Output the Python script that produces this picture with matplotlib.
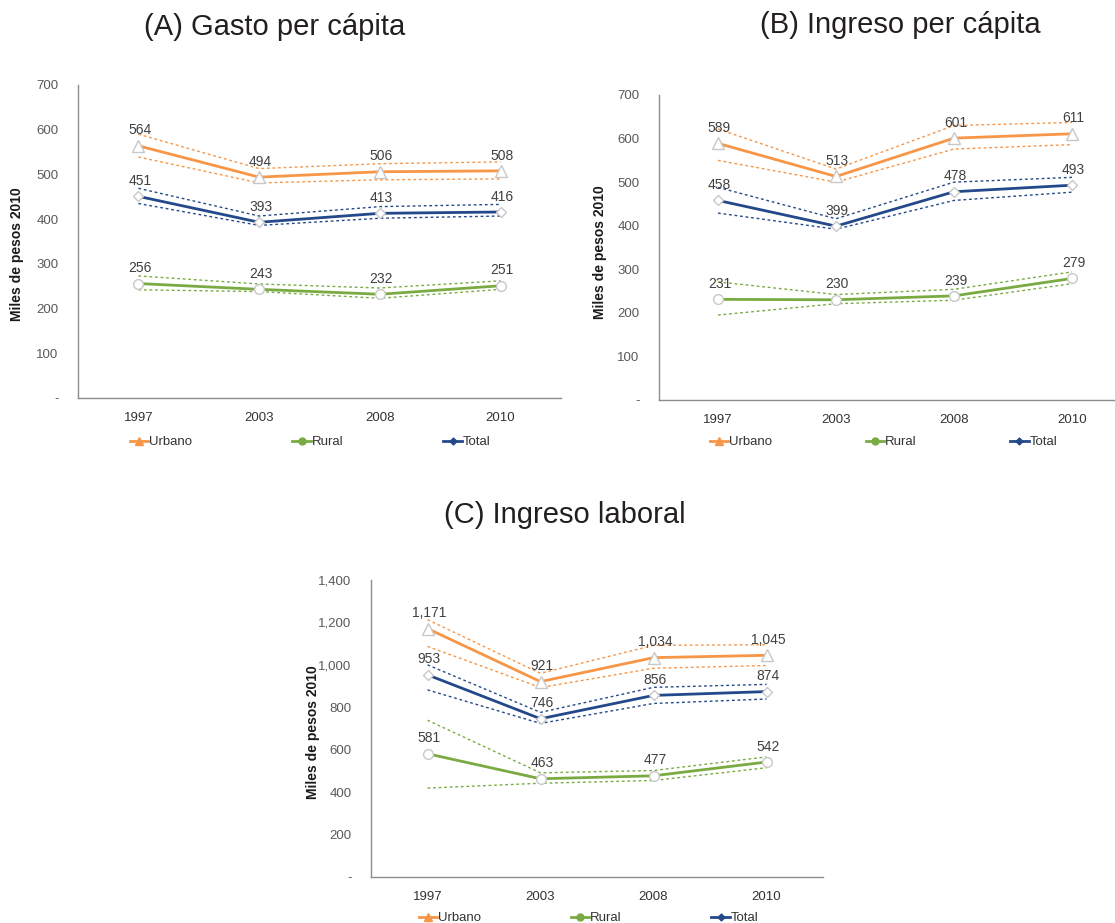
import matplotlib
matplotlib.use("Agg")
import matplotlib.pyplot as plt
from matplotlib.lines import Line2D
from matplotlib.ticker import FuncFormatter

plt.rcParams['font.family']=['Liberation Sans','DejaVu Sans']

years=['1997','2003','2008','2010']

# (A) Gasto per capita
gasto_urbano=[564,494,506,508]
gasto_urbano_hi=[590,513,524,528]
gasto_urbano_lo=[539,481,488,490]
gasto_rural=[256,243,232,251]
gasto_rural_hi=[273,255,246,262]
gasto_rural_lo=[242,238,223,243]
gasto_total=[451,393,413,416]
gasto_total_hi=[469,407,428,433]
gasto_total_lo=[435,386,402,407]

# (B) Ingreso per capita
ingreso_urbano=[589,513,601,611]
ingreso_urbano_hi=[622,530,630,637]
ingreso_urbano_lo=[550,500,576,586]
ingreso_rural=[231,230,239,279]
ingreso_rural_hi=[271,242,254,294]
ingreso_rural_lo=[195,221,229,267]
ingreso_total=[458,399,478,493]
ingreso_total_hi=[488,416,500,511]
ingreso_total_lo=[429,392,458,477]

# (C) Ingreso laboral
laboral_urbano=[1171,921,1034,1045]
laboral_urbano_hi=[1213,960,1092,1095]
laboral_urbano_lo=[1087,893,984,997]
laboral_rural=[581,463,477,542]
laboral_rural_hi=[739,491,502,566]
laboral_rural_lo=[419,442,455,515]
laboral_total=[953,746,856,874]
laboral_total_hi=[1000,776,894,908]
laboral_total_lo=[882,724,818,839]

ORANGE='#F79646'
GREEN='#7AAB43'
BLUE='#24498A'
GREY_TXT='#595959'
W,H=1115,923

def fmt(v,pos=None):
    return '-' if v==0 else f"{int(v):,}"

def draw_series(ax,vals,hi,lo,color,marker,msize):
    x=range(len(years))
    ax.plot(x,hi,color=color,lw=1.0,ls=(0,(2,2)),zorder=2)
    ax.plot(x,lo,color=color,lw=1.0,ls=(0,(2,2)),zorder=2)
    ax.plot(x,vals,color=color,lw=2.0,zorder=3)
    ax.plot(x,vals,ls='none',marker=marker,ms=msize,mfc='white',mec='#C8C8C8',mew=1.0,zorder=4)
    for i,v in enumerate(vals):
        ax.annotate(fmt(v),(i,v),xytext=(1,6),textcoords='offset points',
                    ha='center',va='bottom',fontsize=10,color='#404040',zorder=5)

def panel(rect,series,ymax,ystep,title,title_xy,ylabel_xy,legend_xy,colspace):
    ax=fig.add_axes(rect)
    for vals,hi,lo,color,marker,ms in series:
        draw_series(ax,vals,hi,lo,color,marker,ms)
    ax.set_xlim(-0.5,3.5)
    ax.set_ylim(0,ymax)
    ax.set_yticks(range(0,ymax+1,ystep))
    ax.yaxis.set_major_formatter(FuncFormatter(fmt))
    ax.set_xticks(range(len(years)))
    ax.set_xticklabels(years)
    ax.tick_params(axis='y',length=0,pad=14,labelsize=9.5,labelcolor=GREY_TXT)
    ax.tick_params(axis='x',length=0,pad=10,labelsize=9.5,labelcolor='#333333')
    for s in ['top','right']:
        ax.spines[s].set_visible(False)
    for s in ['left','bottom']:
        ax.spines[s].set_color('#8C8C8C')
        ax.spines[s].set_linewidth(1.0)
    fig.text(ylabel_xy[0]/W,1-ylabel_xy[1]/H,'Miles de pesos 2010',rotation=90,
             ha='center',va='center',fontsize=10,fontweight='bold',color='#1A1A1A')
    fig.text(title_xy[0]/W,1-title_xy[1]/H,title,ha='center',va='center',fontsize=21,color='#231F20')
    handles=[Line2D([],[],color=ORANGE,lw=2,marker='^',ms=6),
             Line2D([],[],color=GREEN,lw=2,marker='o',ms=5),
             Line2D([],[],color=BLUE,lw=2,marker='D',ms=3.5)]
    fig.legend(handles,['Urbano','Rural','Total'],ncol=3,frameon=False,
               loc='center left',bbox_to_anchor=(legend_xy[0]/W,1-legend_xy[1]/H),
               borderpad=0,borderaxespad=0,handlelength=1.4,handletextpad=0.05,
               columnspacing=colspace,fontsize=9.5,labelcolor='#333333')
    return ax

fig=plt.figure(figsize=(W/100,H/100),dpi=100)

panel([78/W,1-398/H,(561-78)/W,(398-85)/H],
      [(gasto_urbano,gasto_urbano_hi,gasto_urbano_lo,ORANGE,'^',8),
       (gasto_rural,gasto_rural_hi,gasto_rural_lo,GREEN,'o',7),
       (gasto_total,gasto_total_hi,gasto_total_lo,BLUE,'D',5.5)],
      700,100,'(A) Gasto per cápita',(275,27),(17,254),(130,442),7.6)

panel([659/W,1-400/H,(1131-659)/W,(400-95)/H],
      [(ingreso_urbano,ingreso_urbano_hi,ingreso_urbano_lo,ORANGE,'^',8),
       (ingreso_rural,ingreso_rural_hi,ingreso_rural_lo,GREEN,'o',7),
       (ingreso_total,ingreso_total_hi,ingreso_total_lo,BLUE,'D',5.5)],
      700,100,'(B) Ingreso per cápita',(900,25),(600,252),(710,442),7.1)

panel([371/W,1-877/H,(823-371)/W,(877-580)/H],
      [(laboral_urbano,laboral_urbano_hi,laboral_urbano_lo,ORANGE,'^',8),
       (laboral_rural,laboral_rural_hi,laboral_rural_lo,GREEN,'o',7),
       (laboral_total,laboral_total_hi,laboral_total_lo,BLUE,'D',5.5)],
      1400,200,'(C) Ingreso laboral',(565,515),(313,732),(419,918),6.8)

fig.savefig('out.png',dpi=100)
